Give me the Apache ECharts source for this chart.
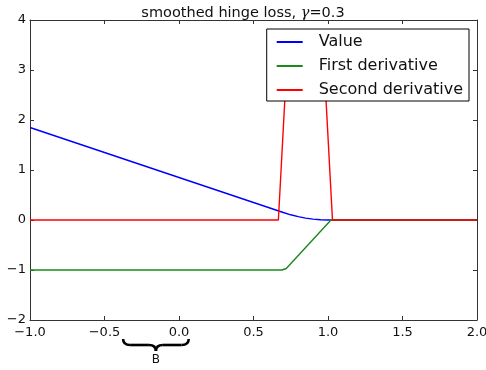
<!DOCTYPE html>
<html>
<head>
<meta charset="utf-8">
<script src="https://cdn.jsdelivr.net/npm/echarts@6/dist/echarts.min.js"></script>
<style>
  html, body { margin: 0; padding: 0; background: #fff; }
  #main { width: 486px; height: 370px; }
</style>
</head>
<body>
<div id="main"></div>
<script>
// values
var valueX = [-1.0, 0.7, 0.75, 0.8, 0.85, 0.9, 0.95, 1.0, 1.02, 2.0];
var valueY = [1.85, 0.15, 0.104, 0.067, 0.038, 0.017, 0.004, 0.0, 0.0, 0.0];
var firstX = [-1.0, 0.69, 0.72, 1.02, 2.0];
var firstY = [-1.0, -1.0, -0.97, 0.0, 0.0];
var secondX = [-1.0, 0.667, 0.727, 0.97, 1.03, 2.0];
var secondY = [0, 0, 3.33, 3.33, 0, 0];
var seriesNames = ['Value', 'First derivative', 'Second derivative'];
var seriesColors = ['#0000ff', '#1a8a1a', '#ff0000'];
var braceRange = [-0.375, 0.065];
var braceLabel = 'B';

function pairs(xs, ys) {
  return xs.map(function (x, i) { return [x, ys[i]]; });
}

var font = 'DejaVu Sans';
var minus = function (s) { return String(s).replace('-', '\u2212'); };

var myChart = echarts.init(document.getElementById('main'));

function xAxisDef(pos, labels) {
  return {
    type: 'value', position: pos, min: -1, max: 2, interval: 0.5,
    axisLine: { show: true, onZero: false, lineStyle: { color: '#333', width: 1 } },
    axisTick: { show: true, inside: true, length: 4, lineStyle: { color: '#333' } },
    axisLabel: {
      show: labels, color: '#111', fontFamily: font, fontSize: 13, margin: 6,
      formatter: function (v) { return minus(v.toFixed(1)); }
    },
    splitLine: { show: false }
  };
}
function yAxisDef(pos, labels) {
  return {
    type: 'value', position: pos, min: -2, max: 4, interval: 1,
    axisLine: { show: true, onZero: false, lineStyle: { color: '#333', width: 1 } },
    axisTick: { show: true, inside: true, length: 4, lineStyle: { color: '#333' } },
    axisLabel: {
      show: labels, color: '#111', fontFamily: font, fontSize: 13, margin: 4,
      formatter: function (v) { return minus(v); }
    },
    splitLine: { show: false }
  };
}

var lineSeries = [
  pairs(valueX, valueY),
  pairs(firstX, firstY),
  pairs(secondX, secondY)
].map(function (d, i) {
  return {
    name: seriesNames[i],
    type: 'line',
    data: d,
    showSymbol: false,
    symbol: 'none',
    clip: true,
    lineStyle: { color: seriesColors[i], width: 1.4 },
    itemStyle: { color: seriesColors[i] },
    z: 2 + i
  };
});

var option = {
  animation: false,
  title: {
    text: '{a|smoothed hinge loss, }{g|\u03b3}{a|=0.3}',
    left: 'center',
    top: 1,
    textStyle: {
      rich: {
        a: { fontFamily: font, fontSize: 14.5, fontWeight: 'normal', color: '#111' },
        g: { fontFamily: 'DejaVu Serif', fontStyle: 'italic', fontWeight: 'normal', fontSize: 14.5, color: '#111' }
      }
    }
  },
  grid: { left: 30, right: 9, top: 20, bottom: 50, outerBoundsMode: 'none', containLabel: false },
  legend: {
    data: seriesNames,
    orient: 'vertical',
    right: 17,
    top: 29,
    backgroundColor: '#fff',
    borderColor: '#000',
    borderWidth: 1,
    borderRadius: 0,
    padding: [5, 6, 3, 10],
    itemGap: 8,
    itemWidth: 26,
    itemHeight: 2,
    icon: 'rect',
    textStyle: { fontFamily: font, fontSize: 16, color: '#111', padding: [0, 0, 0, 11] },
    z: 10
  },
  xAxis: [xAxisDef('bottom', true), xAxisDef('top', false)],
  yAxis: [yAxisDef('left', true), yAxisDef('right', false)],
  series: lineSeries
};
myChart.setOption(option);

// brace annotation under the x axis
var p0 = myChart.convertToPixel({ xAxisIndex: 0, yAxisIndex: 0 }, [braceRange[0], -2]);
var p1 = myChart.convertToPixel({ xAxisIndex: 0, yAxisIndex: 0 }, [braceRange[1], -2]);
var x0 = p0[0], x1 = p1[0], xm = (x0 + x1) / 2;
var yTop = p0[1] + 19, yBar = yTop + 6, yTip = yTop + 12;
var braceStyle = { fill: null, stroke: '#000', lineWidth: 2.6 };

function curve(a, b, c) {
  return { type: 'bezierCurve', shape: { x1: a[0], y1: a[1], cpx1: b[0], cpy1: b[1], x2: c[0], y2: c[1] }, style: braceStyle };
}
function seg(a, b) {
  return { type: 'line', shape: { x1: a[0], y1: a[1], x2: b[0], y2: b[1] }, style: braceStyle };
}

myChart.setOption({
  graphic: [
    curve([x0, yTop], [x0, yBar], [x0 + 7, yBar]),
    seg([x0 + 7, yBar], [xm - 7, yBar]),
    curve([xm - 7, yBar], [xm, yBar], [xm, yTip]),
    curve([xm, yTip], [xm, yBar], [xm + 7, yBar]),
    seg([xm + 7, yBar], [x1 - 7, yBar]),
    curve([x1 - 7, yBar], [x1, yBar], [x1, yTop]),
    {
      type: 'text',
      x: xm,
      y: yTip + 3,
      style: { text: braceLabel, fontFamily: font, fontSize: 12, fill: '#111', align: 'center', verticalAlign: 'top' }
    }
  ]
});
</script>
</body>
</html>
